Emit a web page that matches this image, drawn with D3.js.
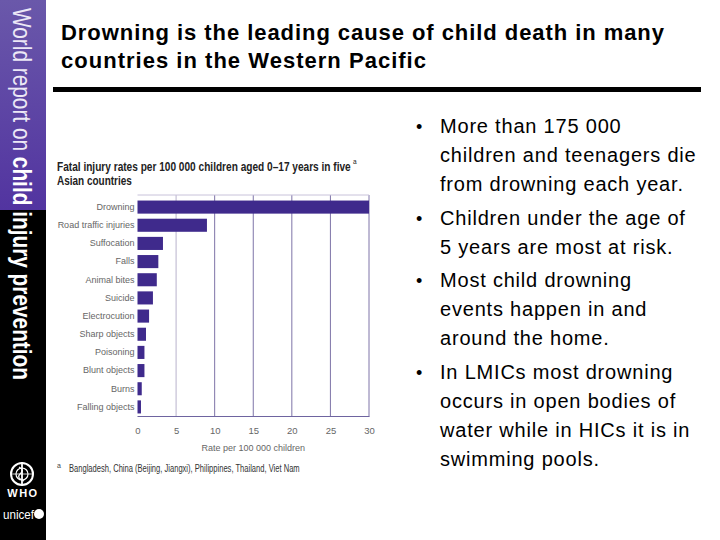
<!DOCTYPE html>
<html><head><meta charset="utf-8">
<script src="https://cdn.jsdelivr.net/npm/d3@7"></script>
<style>html,body{margin:0;padding:0;background:#fff;}svg{display:block;}</style>
</head><body>
<svg id="chart" width="720" height="540"></svg>
<script>
const categories = ["Drowning","Road traffic injuries","Suffocation","Falls","Animal bites","Suicide","Electrocution","Sharp objects","Poisoning","Blunt objects","Burns","Falling objects"];
const rates = [30, 9.0, 3.3, 2.7, 2.5, 2.0, 1.5, 1.1, 0.9, 0.9, 0.55, 0.45];
const xTicks = [0, 5, 10, 15, 20, 25, 30];
const slideTitle = ["Drowning is the leading cause of child death in many", "countries in the Western Pacific"];
const chartTitle = ["Fatal injury rates per 100 000 children aged 0–17 years in five", "Asian countries"];
const xAxisTitle = "Rate per 100 000 children";
const footnote = "Bangladesh, China (Beijing, Jiangxi), Philippines, Thailand, Viet Nam";
const bullets = [
  ["More than 175 000", "children and teenagers die", "from drowning each year."],
  ["Children under the age of", "5 years are most at risk."],
  ["Most child drowning", "events happen in and", "around the home."],
  ["In LMICs most drowning", "occurs in open bodies of", "water while in HICs it is in", "swimming pools."]
];

const svg = d3.select("#chart");
const sans = "'Liberation Sans', Arial, sans-serif";

// Sidebar
const defs = svg.append("defs");
const grad = defs.append("linearGradient").attr("id","sideGrad").attr("x1",0).attr("y1",0).attr("x2",0).attr("y2",1);
grad.append("stop").attr("offset","0%").attr("stop-color","#6a58aa");
grad.append("stop").attr("offset","100%").attr("stop-color","#5234a0");
svg.append("rect").attr("x",0).attr("y",0).attr("width",46).attr("height",210).attr("fill","url(#sideGrad)");
svg.append("rect").attr("x",0).attr("y",210).attr("width",46).attr("height",330).attr("fill","#000");
const side = svg.append("text").attr("transform","translate(13,8) rotate(90)")
  .attr("font-family",sans).attr("font-size",25).attr("fill","#fff")
  .attr("textLength",372).attr("lengthAdjust","spacingAndGlyphs");
side.append("tspan").attr("font-weight","normal").attr("fill","#ece8f6").text("World report on ");
side.append("tspan").attr("font-weight","bold").text("child injury prevention");

// WHO emblem (simple)
const who = svg.append("g").attr("transform","translate(22,474)").attr("stroke","#fff").attr("fill","none");
who.append("circle").attr("r",11).attr("stroke-width",2);
who.append("circle").attr("r",6).attr("stroke-width",1.2);
who.append("line").attr("x1",0).attr("x2",0).attr("y1",-12).attr("y2",12).attr("stroke-width",1.8);
who.append("line").attr("x1",-11).attr("x2",11).attr("y1",0).attr("y2",0).attr("stroke-width",0.8);
who.append("path").attr("d","M-3,-7 Q3,-4 -2,0 Q-6,4 2,7").attr("stroke-width",1.2);
svg.append("text").attr("x",23).attr("y",497).attr("text-anchor","middle").attr("font-family",sans)
  .attr("font-weight","bold").attr("font-size",11).attr("letter-spacing",1.5).attr("fill","#fff").text("WHO");
svg.append("text").attr("x",3).attr("y",519).attr("font-family",sans)
  .attr("font-size",13).attr("fill","#fff").attr("textLength",31).attr("lengthAdjust","spacingAndGlyphs").text("unicef");
svg.append("circle").attr("cx",39).attr("cy",514).attr("r",5).attr("fill","#fff");

// Slide title
svg.append("g").selectAll("text").data(slideTitle).join("text")
  .attr("x",61).attr("y",(d,i)=>40+i*28)
  .attr("font-family",sans).attr("font-weight","bold").attr("font-size",22).attr("fill","#000")
  .attr("textLength",(d,i)=>i===0?603:365).attr("lengthAdjust","spacing")
  .text(d=>d);
svg.append("rect").attr("x",53).attr("y",87).attr("width",648).attr("height",5).attr("fill","#000");

// Bullets
let by = 133;
const bg = svg.append("g").attr("font-family",sans).attr("font-size",20).attr("fill","#000");
bullets.forEach((b,bi)=>{
  bg.append("text").attr("x",416).attr("y",by).attr("font-size",18).text("•");
  b.forEach((line,li)=>{
    bg.append("text").attr("x",440).attr("y",by+li*29).attr("letter-spacing",0.8).text(line);
  });
  by += b.length*29 + 4.5;
});

// Condensed text via horizontal scaling
function condensed(x0, y0, str, target, size, weight, fill){
  const t = svg.append("text").attr("x",0).attr("y",0)
    .attr("font-family",sans).attr("font-weight",weight).attr("font-size",size).attr("fill",fill).text(str);
  const w = t.node().getComputedTextLength();
  t.attr("transform",`translate(${x0},${y0}) scale(${target/w},1)`);
  return t;
}
condensed(57, 171, chartTitle[0], 294, 12.5, "bold", "#222");
svg.append("text").attr("x",353).attr("y",164).attr("font-family",sans).attr("font-size",6.5).attr("fill","#222").text("a");
condensed(57, 185, chartTitle[1], 75, 12.5, "bold", "#222");

const x = d3.scaleLinear().domain([0,30]).range([137.5,369]);
const y = d3.scaleBand().domain(categories).range([198,416]).paddingInner(0.28).paddingOuter(0.14);

const g = svg.append("g");
g.append("g").selectAll("line").data(xTicks.filter(t=>t>0)).join("line")
  .attr("x1",d=>x(d)).attr("x2",d=>x(d)).attr("y1",195).attr("y2",416.5)
  .attr("stroke",(d)=>d===5?"#b8b2cc":"#7e74a8").attr("stroke-width",1);
g.append("line").attr("x1",x(0)).attr("x2",x(30)).attr("y1",195).attr("y2",195).attr("stroke","#c8c2da");
g.append("line").attr("x1",x(0)).attr("x2",x(30)+0.5).attr("y1",416.5).attr("y2",416.5).attr("stroke","#6e64a0").attr("stroke-width",1.2);

g.append("g").selectAll("rect").data(categories).join("rect")
  .attr("x",x(0)).attr("y",d=>y(d)).attr("width",(d,i)=>x(rates[i])-x(0)).attr("height",y.bandwidth())
  .attr("fill","#3f2a8c");

const yAxis = g.append("g").attr("transform",`translate(${x(0)},0)`)
  .call(d3.axisLeft(y).tickSize(0).tickPadding(3));
yAxis.select(".domain").remove();
yAxis.selectAll("text").attr("font-family",sans).attr("font-size",9).attr("fill","#666");

const xAxis = g.append("g").attr("transform","translate(0,416.5)")
  .call(d3.axisBottom(x).tickValues(xTicks).tickSize(0).tickPadding(11).tickFormat(d3.format("d")));
xAxis.select(".domain").remove();
xAxis.selectAll("text").attr("font-family",sans).attr("font-size",9.5).attr("fill","#666");

svg.append("text").attr("x",(x(0)+x(30))/2).attr("y",451).attr("text-anchor","middle")
  .attr("font-family",sans).attr("font-size",9).attr("fill","#666").text(xAxisTitle);

svg.append("text").attr("x",57).attr("y",468).attr("font-family",sans).attr("font-size",7).attr("fill","#444").text("a");
condensed(69, 472, footnote, 231, 10, "normal", "#333");
</script>
</body></html>
